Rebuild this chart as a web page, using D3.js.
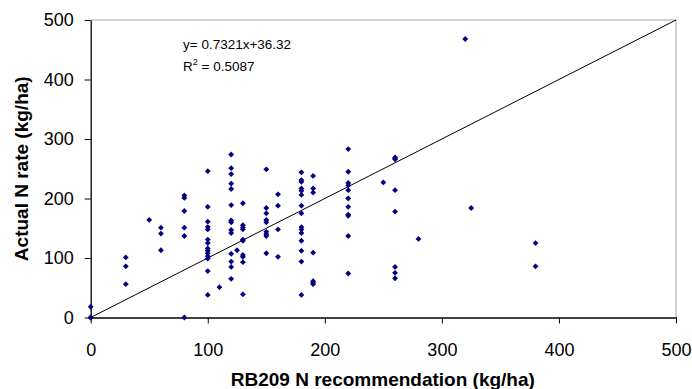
<!DOCTYPE html>
<html>
<head>
<meta charset="utf-8">
<script src="https://cdn.jsdelivr.net/npm/d3@7"></script>
<style>
  body { margin: 0; background: #fff; }
  svg { display: block; font-family: Arial, "Liberation Sans", sans-serif; }
</style>
</head>
<body>
<div id="chart"></div>
<script>
// RB209 recommendation levels (x) and the actual N rates recorded at each level (y)
const recLevels = [0, 30, 50, 60, 80, 100, 110, 120, 125, 130, 150, 160, 180, 190, 220, 250, 260, 280, 320, 325, 380];
const actualRates = [
  [18, 0, 0],
  [101, 86, 56],
  [164],
  [151, 141, 113],
  [205, 201, 179, 151, 137, 0],
  [246, 186, 161, 152, 148, 131, 125, 116, 112, 108, 103, 99, 78, 38],
  [51],
  [274, 251, 241, 225, 216, 189, 163, 160, 147, 142, 107, 94, 85, 65],
  [113],
  [192, 155, 151, 148, 131, 129, 105, 102, 93, 39],
  [249, 184, 175, 164, 160, 144, 140, 137, 108],
  [207, 188, 148, 102],
  [244, 231, 228, 217, 213, 206, 188, 175, 152, 148, 142, 129, 112, 94, 38],
  [238, 217, 210, 109, 61, 58, 56],
  [283, 245, 226, 222, 214, 200, 186, 173, 171, 137, 74],
  [227],
  [269, 267, 266, 214, 178, 85, 75, 66],
  [132],
  [468],
  [184],
  [125, 86]
];
const tickValues = [0, 100, 200, 300, 400, 500];
const trendLabel = 'y= 0.7321x+36.32';
const r2Value = '0.5087';

const points = [];
recLevels.forEach((rec, i) => {
  actualRates[i].forEach(v => points.push({ rec: rec, actual: v }));
});

const width = 692;
const height = 389;
const margin = { top: 20, right: 16, bottom: 71.5, left: 90.7 };

const x = d3.scaleLinear()
  .domain([0, 500])
  .range([margin.left, width - margin.right]);

const y = d3.scaleLinear()
  .domain([0, 500])
  .range([height - margin.bottom, margin.top]);

const svg = d3.select('#chart')
  .append('svg')
  .attr('width', width)
  .attr('height', height);

// plot frame: grey top and right edges
svg.append('path')
  .attr('d', `M${x(0)},${y(500)}H${x(500)}V${y(0)}`)
  .attr('fill', 'none')
  .attr('stroke', '#a6a6a6')
  .attr('stroke-width', 1);

// 1:1 line
svg.append('line')
  .attr('x1', x(0))
  .attr('y1', y(0))
  .attr('x2', x(500))
  .attr('y2', y(500))
  .attr('stroke', '#000')
  .attr('stroke-width', 1);

const xAxis = svg.append('g')
  .attr('transform', `translate(0, ${y(0)})`)
  .call(d3.axisBottom(x).tickValues(tickValues).tickSize(6).tickPadding(20).tickSizeOuter(0));

const yAxis = svg.append('g')
  .attr('transform', `translate(${x(0)}, 0)`)
  .call(d3.axisLeft(y).tickValues(tickValues).tickSize(6).tickPadding(11).tickSizeOuter(0));

[xAxis, yAxis].forEach(g => {
  g.select('.domain').attr('stroke', '#000').attr('stroke-width', 1.3);
  g.selectAll('.tick line').attr('stroke', '#000');
  g.selectAll('.tick text')
    .attr('fill', '#000')
    .style('font-size', '18px')
    .style('font-family', 'Arial, "Liberation Sans", sans-serif');
});

// points
svg.append('g')
  .selectAll('path')
  .data(points)
  .enter().append('path')
  .attr('d', d3.symbol(d3.symbolSquare, 17))
  .attr('transform', d => `translate(${x(d.rec)}, ${y(d.actual)}) rotate(45)`)
  .attr('fill', '#000080');

// regression text
const eq = svg.append('g')
  .style('font-size', '13.5px')
  .attr('fill', '#000');

eq.append('text')
  .attr('x', 183)
  .attr('y', 49)
  .text(trendLabel);

const r2 = eq.append('text')
  .attr('x', 183)
  .attr('y', 71);
r2.append('tspan').text('R');
r2.append('tspan').attr('dy', -6).style('font-size', '9px').text('2');
r2.append('tspan').attr('dy', 6).text(' = ' + r2Value);

// axis titles
svg.append('text')
  .attr('x', (x(0) + x(500)) / 2 - 0.5)
  .attr('y', 386)
  .attr('text-anchor', 'middle')
  .style('font-size', '19px')
  .style('font-weight', 'bold')
  .text('RB209 N recommendation (kg/ha)');

svg.append('text')
  .attr('transform', `translate(28, ${(y(0) + y(500)) / 2}) rotate(-90)`)
  .attr('text-anchor', 'middle')
  .style('font-size', '19px')
  .style('font-weight', 'bold')
  .text('Actual N rate (kg/ha)');
</script>
</body>
</html>
